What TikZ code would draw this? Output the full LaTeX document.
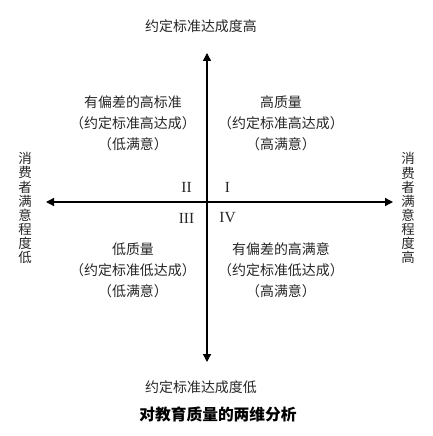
\documentclass[tikz,border=0pt]{standalone}
\usepackage{fontspec}
\setmainfont{Liberation Serif}
\newfontfamily\cjk{Noto Sans CJK SC}
\usetikzlibrary{arrows.meta}
\tikzset{
  cn/.style={font=\cjk\fontsize{14}{21}\selectfont, text=black!85, align=center, inner sep=0pt},
  vt/.style={font=\cjk\fontsize{13.5}{14.1}\selectfont, text=black!85, align=center, inner sep=0pt},
  rn/.style={font=\fontsize{15.5}{15.5}\selectfont, text=black!85, inner sep=0pt},
  ttl/.style={font=\cjk\bfseries\fontsize{15.8}{16}\selectfont, text=black, inner sep=0pt},
  axis/.style={line width=1.3bp, black, {Triangle[length=8bp,width=8bp]}-{Triangle[length=8bp,width=8bp]}}
}
\begin{document}
\begin{tikzpicture}[x=1bp,y=-1bp]
\useasboundingbox (0,0) rectangle (432,436);
\coordinate (top) at (207,53);
\coordinate (bot) at (207,362);
\coordinate (lft) at (46,202);
\coordinate (rgt) at (393,202);
\draw[axis] (bot) -- (top);
\draw[axis] (lft) -- (rgt);
\node[cn] (tl) at (201,26) {约定标准达成度高};
\node[cn] (bl) at (201,387) {约定标准达成度低};
\node[ttl] (title) at (218,414) {对教育质量的两维分析};
\node[cn] (q2) at (133,123) {有偏差的高标准\\（约定标准高达成）\\（低满意）};
\node[cn] (q1) at (281,123) {高质量\\（约定标准高达成）\\（高满意）};
\node[cn] (q3) at (133,270) {低质量\\（约定标准低达成）\\（低满意）};
\node[cn] (q4) at (281,270) {有偏差的高满意\\（约定标准低达成）\\（高满意）};
\node[rn] (r2) at (186.5,187) {II};
\node[rn] (r1) at (227.5,187) {I};
\node[rn] (r3) at (186.5,218) {III};
\node[rn] (r4) at (227.5,218) {IV};
\node[vt] (ls) at (25,208) {消\\费\\者\\满\\意\\程\\度\\低};
\node[vt] (rs) at (408,208) {消\\费\\者\\满\\意\\程\\度\\高};
\end{tikzpicture}
\end{document}
